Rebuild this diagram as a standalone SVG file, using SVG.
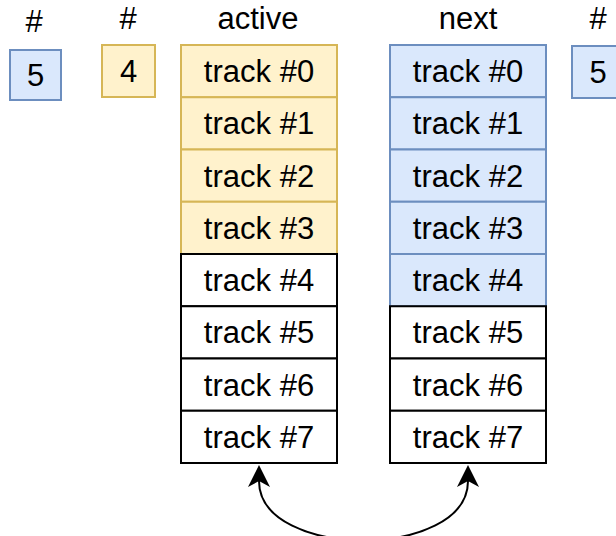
<svg xmlns="http://www.w3.org/2000/svg" width="616" height="536" viewBox="0 0 616 536">
<style>
text{font-family:"Liberation Sans",Arial,sans-serif;font-size:31px;fill:#000;text-anchor:middle}
.b{fill:#dae8fc;stroke:#6c8ebf;stroke-width:2}
.y{fill:#fff2cc;stroke:#d6b656;stroke-width:2}
.w{fill:#ffffff;stroke:#000;stroke-width:2}
.e{fill:none;stroke:#000;stroke-width:2}
</style>
<defs>
<marker id="ah" markerUnits="userSpaceOnUse" viewBox="0 0 22 22" markerWidth="22" markerHeight="22" refX="6" refY="11" orient="auto-start-reverse">
<path d="M0,0 L22,11 L0,22 L6,11 Z" fill="#000"/>
</marker>
</defs>
<g id="label-hash-left"><text x="34" y="32">#</text></g>
<g id="count-left"><rect class="b" x="10" y="50" width="51" height="50"/><text x="35.5" y="86">5</text></g>
<g id="label-hash-mid"><text x="128" y="29">#</text></g>
<g id="count-mid"><rect class="y" x="102" y="45" width="53" height="52"/><text x="128.5" y="82">4</text></g>
<g id="label-active"><text x="258" y="29">active</text></g>
<g id="active">
<rect class="y" x="181" y="45" width="156" height="52.25"/><text x="259" y="82">track #0</text>
<rect class="y" x="181" y="97.25" width="156" height="52.25"/><text x="259" y="134.3">track #1</text>
<rect class="y" x="181" y="149.5" width="156" height="52.25"/><text x="259" y="186.5">track #2</text>
<rect class="y" x="181" y="201.75" width="156" height="52.25"/><text x="259" y="238.8">track #3</text>
<rect class="w" x="181" y="254" width="156" height="52.25"/><text x="259" y="291">track #4</text>
<rect class="w" x="181" y="306.25" width="156" height="52.25"/><text x="259" y="343.3">track #5</text>
<rect class="w" x="181" y="358.5" width="156" height="52.25"/><text x="259" y="395.5">track #6</text>
<rect class="w" x="181" y="410.75" width="156" height="52.25"/><text x="259" y="447.8">track #7</text>
</g>
<g id="label-next"><text x="468" y="29">next</text></g>
<g id="next">
<rect class="b" x="390" y="45" width="156" height="52.25"/><text x="468" y="82">track #0</text>
<rect class="b" x="390" y="97.25" width="156" height="52.25"/><text x="468" y="134.3">track #1</text>
<rect class="b" x="390" y="149.5" width="156" height="52.25"/><text x="468" y="186.5">track #2</text>
<rect class="b" x="390" y="201.75" width="156" height="52.25"/><text x="468" y="238.8">track #3</text>
<rect class="b" x="390" y="254" width="156" height="52.25"/><text x="468" y="291">track #4</text>
<rect class="w" x="390" y="306.25" width="156" height="52.25"/><text x="468" y="343.3">track #5</text>
<rect class="w" x="390" y="358.5" width="156" height="52.25"/><text x="468" y="395.5">track #6</text>
<rect class="w" x="390" y="410.75" width="156" height="52.25"/><text x="468" y="447.8">track #7</text>
</g>
<g id="label-hash-right"><text x="598" y="29">#</text></g>
<g id="count-right"><rect class="b" x="572" y="46" width="52" height="52"/><text x="598" y="83">5</text></g>
<g id="connectors">
<path class="e" d="M259,481 C259,560 468,560 468,481" marker-start="url(#ah)" marker-end="url(#ah)"/>
</g>
</svg>
